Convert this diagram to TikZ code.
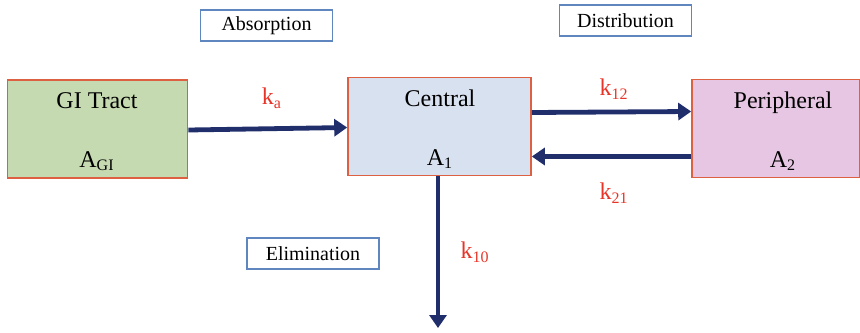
\documentclass[tikz,border=0pt]{standalone}
\usepackage{fontspec}
\setmainfont{Liberation Serif}
\usetikzlibrary{arrows.meta,positioning}

\definecolor{giGreen}{RGB}{197,218,176}
\definecolor{cenBlue}{RGB}{216,225,240}
\definecolor{perPink}{RGB}{230,198,226}
\definecolor{boxEdge}{RGB}{222,96,66}
\definecolor{tagEdge}{RGB}{96,134,192}
\definecolor{flowNavy}{RGB}{32,46,108}
\definecolor{rateRed}{RGB}{232,52,40}

\begin{document}
\begin{tikzpicture}[x=0.5pt,y=-0.5pt,
  comp/.style={draw=boxEdge, line width=0.8pt, minimum width=90pt, minimum height=49pt, inner sep=0pt},
  tag/.style={draw=tagEdge, line width=0.7pt, fill=white, minimum width=66pt, minimum height=15.5pt, inner sep=0pt, font=\fontsize{10}{12}\selectfont},
  cname/.style={font=\fontsize{12}{14}\selectfont, anchor=base},
  rate/.style={text=rateRed, font=\fontsize{12}{14}\selectfont, inner sep=0pt},
  flow/.style={draw=flowNavy, line width=2.4pt, -{Triangle[length=6.5pt,width=8.5pt]}}]
\useasboundingbox (0,0) rectangle (860,332);

% compartments
\node[comp, fill=giGreen] (gi) at (97.5,129) {};
\node[comp, fill=cenBlue, minimum width=91.5pt] (central) at (439.5,126.5) {};
\node[comp, fill=perPink, minimum width=84pt] (peri) at (776,128.5) {};

\node[cname] (giname) at (97,108) {GI Tract};
\node[cname] (giamt) at (97,167) {A\textsubscript{GI}};
\node[cname] (cenname) at (440,106) {Central};
\node[cname] (cenamt) at (440,165) {A\textsubscript{1}};
\node[cname] (pername) at (783,108) {Peripheral};
\node[cname] (peramt) at (783,167) {A\textsubscript{2}};

% process tags
\node[tag] (absorp) at (266.5,25.5) {Absorption};
\node[tag] (distrib) at (625.5,20.5) {Distribution};
\node[tag] (elim) at (313,253.5) {Elimination};

% transfers
\coordinate (sink) at (438,328);
\draw[flow] ([yshift=-0.5pt]gi.east) -- ([yshift=-0.5pt]central.west);
\draw[flow] ([yshift=7pt]central.east) -- ([yshift=8.5pt]peri.west);
\draw[flow] ([yshift=-14pt]peri.west) -- ([yshift=-15pt]central.east);
\draw[flow] (central.south -| sink) -- (sink);

\node[rate] (ka) at (272,98) {k\textsubscript{a}};
\node[rate] (k12) at (614,89) {k\textsubscript{12}};
\node[rate] (k21) at (614,193) {k\textsubscript{21}};
\node[rate] (k10) at (475,252) {k\textsubscript{10}};
\end{tikzpicture}
\end{document}
